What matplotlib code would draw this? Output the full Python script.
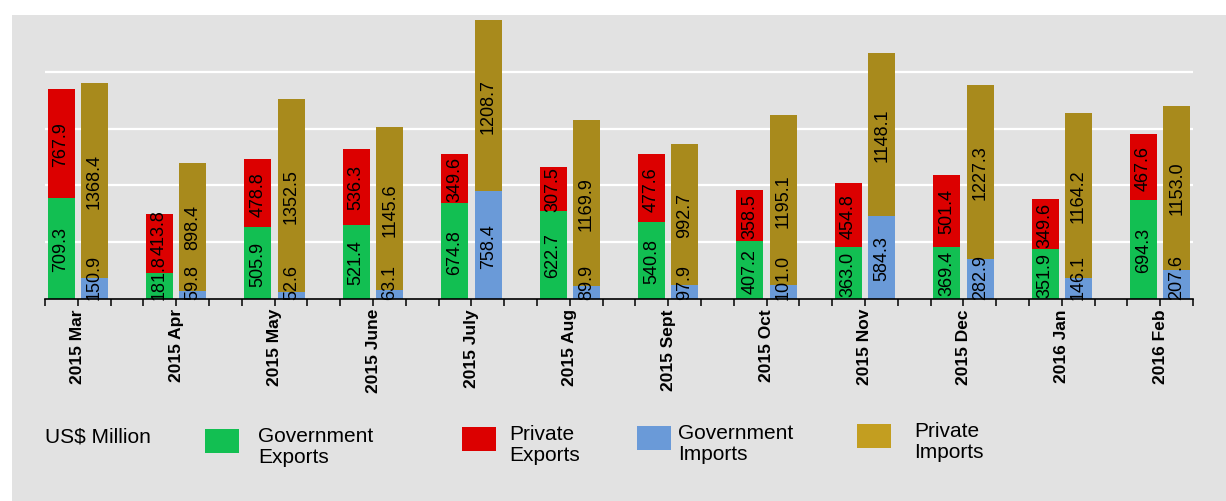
import numpy as np
import matplotlib
matplotlib.use("Agg")
import matplotlib.pyplot as plt
from matplotlib.patches import Rectangle

plt.rcParams['font.family'] = ['Liberation Sans', 'DejaVu Sans']

months = ['2015 Mar', '2015 Apr', '2015 May', '2015 June', '2015 July', '2015 Aug',
          '2015 Sept', '2015 Oct', '2015 Nov', '2015 Dec', '2016 Jan', '2016 Feb']
gov_exports = [709.3, 181.8, 505.9, 521.4, 674.8, 622.7, 540.8, 407.2, 363.0, 369.4, 351.9, 694.3]
private_exports = [767.9, 413.8, 478.8, 536.3, 349.6, 307.5, 477.6, 358.5, 454.8, 501.4, 349.6, 467.6]
gov_imports = [150.9, 59.8, 52.6, 63.1, 758.4, 89.9, 97.9, 101.0, 584.3, 282.9, 146.1, 207.6]
private_imports = [1368.4, 898.4, 1352.5, 1145.6, 1208.7, 1169.9, 992.7, 1195.1, 1148.1, 1227.3, 1164.2, 1153.0]

C_GE = '#12bf52'
C_PE = '#dc0000'
C_GI = '#6a9ad8'
C_PI = '#a88a1c'
BG = '#e2e2e2'

W, H = 1226, 502
fig = plt.figure(figsize=(W / 100, H / 100), dpi=100)
fig.patches.append(Rectangle((12 / W, 0), 1, 1 - 16 / H, transform=fig.transFigure,
                             facecolor=BG, edgecolor='none', zorder=-5))

ax = fig.add_axes([45 / W, 1 - 300 / H, (1193 - 45) / W, (300 - 16) / H])
ax.set_facecolor('none')
for s in ['top', 'left', 'right']:
    ax.spines[s].set_visible(False)
ax.spines['bottom'].set_color('black')
ax.spines['bottom'].set_linewidth(1.2)

n = len(months)
x = np.arange(n)
bw = 0.275
off = 0.17
ymax = 2000

ax.set_yticks([400, 800, 1200, 1600])
ax.set_yticklabels([])
ax.tick_params(axis='y', length=0)
ax.grid(axis='y', color='white', linewidth=1.6)
ax.set_axisbelow(True)

ax.set_xticks(x)
ax.set_xticklabels(months, rotation=90, fontsize=12.5, fontweight='bold')
minor = [k / 3 for k in range(-1, 3 * (n - 1) + 2) if k % 3 != 0]
ax.set_xticks(minor, minor=True)
ax.tick_params(axis='x', which='both', direction='out', length=5, width=1.1, color='black', pad=1.5)
ax.set_xlim(-1 / 3, n - 1 + 1 / 3)
ax.set_ylim(0, ymax)

ax.bar(x - off, gov_exports, bw, color=C_GE, zorder=2)
ax.bar(x - off, private_exports, bw, bottom=gov_exports, color=C_PE, zorder=2)
ax.bar(x + off, gov_imports, bw, color=C_GI, zorder=2)
ax.bar(x + off, private_imports, bw, bottom=gov_imports, color=C_PI, zorder=2)

renderer = fig.canvas.get_renderer()
ax_px = ax.get_window_extent(renderer).height


def stack_labels(xpos, low, high):
    for i in range(len(xpos)):
        prev_top = 0
        base = 0
        for vals in (low, high):
            v = vals[i]
            t = ax.text(xpos[i], base + v / 2, f'{v:.1f}', rotation=90, ha='center',
                        va='center', fontsize=13, color='black', zorder=3)
            half = t.get_window_extent(renderer).height / ax_px * ymax / 2
            c = base + v / 2
            if c - half < prev_top:
                c = prev_top + half
            t.set_y(c)
            prev_top = c + half
            base += v


stack_labels(x - off, gov_exports, private_exports)
stack_labels(x + off, gov_imports, private_imports)

# legend drawn in figure pixels
fig.text(45 / W, 1 - 437 / H, 'US$ Million', fontsize=15, va='center', ha='left')
legend_items = [
    (C_GE, 'Government\nExports', 205, 430, 258),
    (C_PE, 'Private\nExports', 462, 428, 509),
    (C_GI, 'Government\nImports', 637, 427, 678),
    ('#c39e20', 'Private\nImports', 857, 425, 914),
]
for col, lab, sx, sy, tx in legend_items:
    fig.patches.append(Rectangle((sx / W, 1 - (sy + 24) / H), 34 / W, 24 / H,
                                 transform=fig.transFigure, facecolor=col,
                                 edgecolor='none', zorder=1))
    fig.text(tx / W, 1 - (sy + 17) / H, lab, fontsize=15, va='center', ha='left',
             linespacing=1.15)

fig.savefig('out.png', dpi=100)
